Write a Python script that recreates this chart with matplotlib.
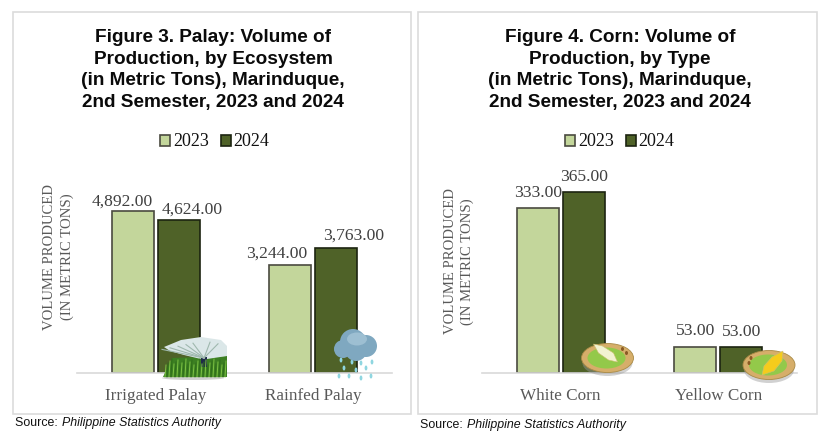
import matplotlib
matplotlib.use('Agg')
import matplotlib.pyplot as plt
from matplotlib.patches import Rectangle, Ellipse, Circle, Polygon

# Data
years = ['2023', '2024']
palayCategories = ['Irrigated Palay', 'Rainfed Palay']
palay2023 = [4892, 3244]
palay2024 = [4624, 3763]
cornCategories = ['White Corn', 'Yellow Corn']
corn2023 = [333, 53]
corn2024 = [365, 53]

# Style
W, H = 833, 437
lightGreen = '#c3d69b'
darkGreen = '#4f6228'
serif = 'Liberation Serif'
sans = 'Liberation Sans'
grey = '#595959'

fig = plt.figure(figsize=(W / 100, H / 100), dpi=100)

def AddAxes(x0, y0, x1, y1, z):
    ax = fig.add_axes([x0 / W, 1 - y1 / H, (x1 - x0) / W, (y1 - y0) / H], zorder=z)
    ax.patch.set_alpha(0)
    return ax

# Background layer in pixel coordinates
back = AddAxes(0, 0, W, H, 0)
back.set_xlim(0, W)
back.set_ylim(H, 0)
back.axis('off')

# Icons layer, same coordinates
front = AddAxes(0, 0, W, H, 5)
front.set_xlim(0, W)
front.set_ylim(H, 0)
front.axis('off')

def DrawPanel(x0, x1, y0, y1, title, titleX, source, sourceY):
    back.add_patch(Rectangle((x0, y0), x1 - x0, y1 - y0, fc='white', ec='#dcdcdc', lw=1.2))
    back.text(titleX, 70, title, ha='center', va='center', fontsize=13.7, fontweight='bold',
              family=sans, color='#0a0a0a', linespacing=1.34)
    back.text(x0 + 1.5, sourceY, 'Source: ', fontsize=8.95, family=sans, va='baseline', color='#111111')
    back.text(x0 + 48.5, sourceY, source, fontsize=8.95, family=sans, style='italic', va='baseline', color='#111111')

def DrawChart(x0, x1, yMax, categories, values23, values24, labelX, labelY, offsets):
    ax = AddAxes(x0, 150, x1, 373, 2)
    barWidth = 42 / 157.5
    gap = 46 / 157.5
    pos = list(range(len(categories)))
    bars23 = ax.bar([p - gap / 2 for p in pos], values23, barWidth, color=lightGreen,
                    edgecolor='#4a4a40', linewidth=1.2, label=years[0])
    bars24 = ax.bar([p + gap / 2 for p in pos], values24, barWidth, color=darkGreen,
                    edgecolor='#1c2410', linewidth=1.2, label=years[1])
    ax.set_xlim(-0.5, len(categories) - 0.5)
    ax.set_ylim(0, yMax)
    ax.set_xticks(pos)
    ax.set_xticklabels(categories, family=serif, fontsize=12.3, color=grey)
    ax.tick_params(axis='x', length=0, pad=10.7)
    ax.set_yticks([])
    for name in ['top', 'left', 'right']:
        ax.spines[name].set_visible(False)
    ax.spines['bottom'].set_color('#d9d9d9')
    ax.spines['bottom'].set_linewidth(1.2)

    # Data labels
    allBars = list(bars23) + list(bars24)
    allValues = list(values23) + list(values24)
    for bar, value, off in zip(allBars, allValues, offsets):
        ax.annotate(f'{value:,.2f}', (bar.get_x() + bar.get_width() / 2, value),
                    xytext=off, textcoords='offset pixels', ha='center', va='bottom',
                    family=serif, fontsize=12.6, color='#404040')

    ax.set_ylabel('VOLUME PRODUCED\n(IN METRIC TONS)', family=serif, fontsize=10.6, color=grey,
                  linespacing=1.35)
    ax.yaxis.set_label_coords(labelX, labelY)

    ax.legend(loc='center', bbox_to_anchor=(0.438, 1.036), ncol=2, frameon=False, handlelength=0.55,
              handleheight=0.55, handletextpad=0.15, columnspacing=0.68,
              prop={'family': serif, 'size': 13}, labelcolor='#111111')
    return ax

def DrawSprinkler(cx, base):
    # Shadow and grass block
    front.add_patch(Ellipse((cx - 3, base + 5), 62, 4, fc='#777777', ec='none', alpha=0.35))
    front.add_patch(Polygon([(cx - 33, base + 4), (cx - 24, base - 15), (cx + 31, base - 17), (cx + 31, base + 4)],
                            fc='#3c7f22', ec='none'))
    for i in range(0, 62, 2):
        front.plot([cx - 31 + i, cx - 30 + i], [base + 4, base - 8 - (i % 7)],
                   color='#7cc243' if i % 4 == 0 else '#2f6e1a', lw=0.7)
    # Spray fan
    front.add_patch(Polygon([(cx - 32, base - 26), (cx - 15, base - 33), (cx + 5, base - 36), (cx + 25, base - 33),
                             (cx + 31, base - 27), (cx + 31, base - 17), (cx + 11, base - 14), (cx + 5, base - 14),
                             (cx - 12, base - 18), (cx - 26, base - 22)], fc='#dbe7e8', ec='none'))
    for dx in [-34, -26, -18, -10, -3, 14, 22]:
        front.plot([cx + 8, cx + dx], [base - 15, base - 32 + abs(dx - 8) * 0.2], color='#9fb8ae', lw=0.8)
    # Sprinkler head
    front.add_patch(Rectangle((cx + 5, base - 16), 6.5, 10, fc='#1f2a4a', ec='none'))

def DrawCloud(cx, cy):
    # Drops sit under the cloud
    for dx, dy in [(-15, 15), (-12, 23), (-4, 17), (0, 25), (5, 18), (10, 23), (16, 17), (-7, 31), (5, 33), (15, 31), (-17, 31)]:
        front.add_patch(Ellipse((cx + dx, cy + dy), 2.8, 5, fc='#8fd6e0', ec='none'))
    for dx, dy, r in [(-13, 4, 9), (-3, -3, 13), (10, 1, 11), (0, 5, 11)]:
        front.add_patch(Circle((cx + dx, cy + dy), r, fc='#7fa8c0', ec='none'))
    front.add_patch(Ellipse((cx + 1, cy - 6), 20, 13, fc='#9dbfd2', ec='none'))

def DrawCorn(cx, cy, kernel, cob, crumbs):
    front.add_patch(Ellipse((cx, cy + 5), 50, 26, fc='#999999', ec='none', alpha=0.45))
    front.add_patch(Ellipse((cx, cy), 52, 29, fc='#d6ae6a', ec='#a98a45', lw=0.6))
    front.add_patch(Ellipse((cx - 1, cy), 38, 21, fc='#93c94a', ec='none'))
    front.add_patch(Polygon([(cx + x, cy + y) for x, y in cob], fc=kernel, ec='#cdbf70', lw=0.4))
    for x, y in crumbs:
        front.add_patch(Ellipse((cx + x, cy + y), 3, 4, fc='#8a5a24', ec='none'))

# Panels
titlePalay = 'Figure 3. Palay: Volume of\nProduction, by Ecosystem\n(in Metric Tons), Marinduque,\n2nd Semester, 2023 and 2024'
titleCorn = 'Figure 4. Corn: Volume of\nProduction, by Type\n(in Metric Tons), Marinduque,\n2nd Semester, 2023 and 2024'
DrawPanel(13.5, 411.5, 11.5, 413.5, titlePalay, 213, 'Philippine Statistics Authority', 426)
DrawPanel(418.5, 817, 11.5, 413.5, titleCorn, 620, 'Philippine Statistics Authority', 428)

# Charts, label offsets follow the 2023 bars then the 2024 bars
DrawChart(77, 392, 6721, palayCategories, palay2023, palay2024, -0.011, 0.52,
          [(-11, 1), (-14, 4), (13, 2), (17, 5)])
DrawChart(482, 797, 449, cornCategories, corn2023, corn2024, -0.024, 0.50,
          [(0, 7), (0, 8), (0, 7), (0, 7)])

# Icons
DrawSprinkler(196, 373)
DrawCloud(356, 345)
DrawCorn(607.5, 358, '#f2f2d2', [(-14, -14), (-5, -12), (6, -5), (10, 4), (1, 2), (-9, -5)], [(15, -9), (19, -5)])
DrawCorn(769, 365, '#f5cc1c', [(-7, 10), (-5, 1), (3, -8), (14, -14), (13, -4), (5, 6)], [(-18, -7), (-20, -2)])

fig.savefig('out.png', dpi=100)
